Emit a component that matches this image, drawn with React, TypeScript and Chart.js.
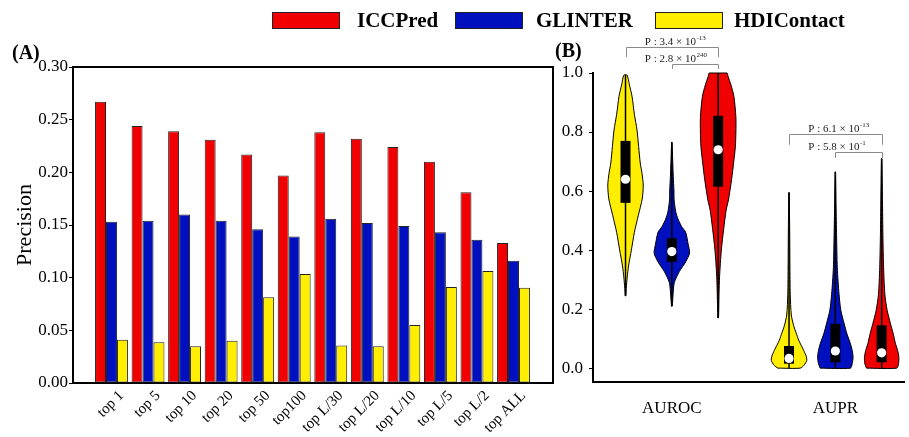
import React, { useEffect, useRef } from 'react';
import { Chart, registerables } from 'chart.js';
Chart.register(...registerables);

// ---------- Panel A data ----------
const categories = ['top 1', 'top 5', 'top 10', 'top 20', 'top 50', 'top100', 'top L/30', 'top L/20', 'top L/10', 'top L/5', 'top L/2', 'top ALL'];
const iccpred = [0.267, 0.244, 0.239, 0.231, 0.217, 0.197, 0.238, 0.232, 0.224, 0.210, 0.181, 0.133];
const glinter = [0.153, 0.154, 0.160, 0.154, 0.146, 0.139, 0.156, 0.152, 0.149, 0.143, 0.136, 0.116];
const hdicontact = [0.041, 0.0386, 0.0348, 0.0402, 0.0814, 0.1035, 0.0355, 0.0348, 0.0551, 0.0912, 0.1064, 0.0905];
const precisionTicks = [0, 0.05, 0.1, 0.15, 0.2, 0.25, 0.3];

// ---------- Panel B data ----------
const metricGroups = ['AUROC', 'AUPR'];
const methods = ['HDIContact', 'GLINTER', 'ICCPred'];
const scoreTicks = [0, 0.2, 0.4, 0.6, 0.8, 1.0];
// box stats: [min, q1, median, q3, max]
const aurocHdiStats = [0.245, 0.56, 0.64, 0.77, 0.993];
const aurocGlinterStats = [0.21, 0.36, 0.395, 0.44, 0.765];
const aurocIccStats = [0.17, 0.615, 0.74, 0.855, 1.0];
const auprHdiStats = [0.0, 0.015, 0.033, 0.075, 0.595];
const auprGlinterStats = [0.0, 0.02, 0.058, 0.15, 0.665];
const auprIccStats = [0.0, 0.02, 0.052, 0.145, 0.71];
// violin density profiles: [value, relative half-width]
const aurocHdiDensity = [[0.245, 0.02], [0.27, 0.04], [0.31, 0.1], [0.346, 0.17], [0.4, 0.33], [0.46, 0.5], [0.517, 0.72], [0.573, 0.94], [0.62, 1.0], [0.66, 0.93], [0.695, 0.83], [0.75, 0.74], [0.806, 0.65], [0.86, 0.5], [0.92, 0.37], [0.96, 0.22], [0.993, 0.09]];
const aurocGlinterDensity = [[0.21, 0.02], [0.25, 0.07], [0.29, 0.14], [0.327, 0.42], [0.36, 0.78], [0.39, 1.0], [0.42, 0.92], [0.46, 0.78], [0.48, 0.55], [0.505, 0.35], [0.53, 0.22], [0.57, 0.13], [0.6, 0.12], [0.65, 0.08], [0.7, 0.05], [0.765, 0.01]];
const aurocIccDensity = [[0.17, 0.02], [0.25, 0.05], [0.31, 0.08], [0.4, 0.18], [0.47, 0.31], [0.535, 0.45], [0.57, 0.58], [0.64, 0.76], [0.7, 0.88], [0.75, 0.97], [0.8, 1.0], [0.85, 1.0], [0.92, 0.89], [0.96, 0.72], [0.99, 0.55], [1.0, 0.5]];
const auprHdiDensity = [[0.0, 0.63], [0.01, 0.85], [0.026, 1.0], [0.04, 0.97], [0.06, 0.83], [0.094, 0.55], [0.12, 0.4], [0.14, 0.28], [0.18, 0.13], [0.25, 0.07], [0.35, 0.05], [0.45, 0.04], [0.595, 0.01]];
const auprGlinterDensity = [[0.0, 0.85], [0.015, 0.95], [0.037, 1.0], [0.06, 0.95], [0.083, 0.85], [0.117, 0.65], [0.15, 0.5], [0.196, 0.31], [0.25, 0.21], [0.34, 0.11], [0.45, 0.07], [0.55, 0.04], [0.665, 0.01]];
const auprIccDensity = [[0.0, 0.85], [0.015, 0.95], [0.037, 0.97], [0.06, 0.9], [0.083, 0.78], [0.117, 0.65], [0.15, 0.5], [0.196, 0.31], [0.25, 0.18], [0.34, 0.11], [0.45, 0.07], [0.55, 0.05], [0.71, 0.01]];
// significance annotations
const pValueMantissas = ['3.4', '2.8', '6.1', '5.8'];
const pValueExponents = ['-13', '240', '-13', '-1'];

// ---------- styling ----------
const RED = '#F00000';
const BLUE = '#0010BE';
const YELLOW = '#FFEE00';
const methodColors = [YELLOW, BLUE, RED];
const SERIF = "'Liberation Serif', 'Times New Roman', serif";
const GROUP_SPACING = 3.53;
const VIOLIN_HALF = 0.383;

const violinStats = [[aurocHdiStats, aurocGlinterStats, aurocIccStats], [auprHdiStats, auprGlinterStats, auprIccStats]];
const violinDensity = [[aurocHdiDensity, aurocGlinterDensity, aurocIccDensity], [auprHdiDensity, auprGlinterDensity, auprIccDensity]];

const centerOf = (g: number, s: number) => g * GROUP_SPACING + s;

// bracket definitions: group, from-method, to-method, line level, tick end level
const brackets = [
  { g: 0, a: 0, b: 2, line: 1.088, tick: 1.054, p: 0 },
  { g: 0, a: 1, b: 2, line: 1.031, tick: 1.014, p: 1 },
  { g: 1, a: 0, b: 2, line: 0.793, tick: 0.757, p: 2 },
  { g: 1, a: 1, b: 2, line: 0.732, tick: 0.712, p: 3 },
];

const framePlugin = {
  id: 'frameA',
  afterDraw(chart: any) {
    const { ctx, chartArea: a } = chart;
    ctx.save();
    ctx.strokeStyle = '#000';
    ctx.lineWidth = 2;
    ctx.beginPath();
    ctx.moveTo(a.left - 1, a.top);
    ctx.lineTo(a.right, a.top);
    ctx.lineTo(a.right, a.bottom + 1);
    ctx.stroke();
    ctx.restore();
  },
};

const bracketPlugin = {
  id: 'brackets',
  afterDraw(chart: any) {
    const { ctx } = chart;
    const xs = chart.scales.x;
    const ys = chart.scales.y;
    ctx.save();
    for (const br of brackets) {
      const xa = Math.round(xs.getPixelForValue(centerOf(br.g, br.a))) + 0.5;
      const xb = Math.round(xs.getPixelForValue(centerOf(br.g, br.b))) + 0.5;
      const yl = Math.round(ys.getPixelForValue(br.line)) + 0.5;
      const yt = ys.getPixelForValue(br.tick);
      ctx.strokeStyle = '#8a8a8a';
      ctx.lineWidth = 1;
      ctx.beginPath();
      ctx.moveTo(xa, yt);
      ctx.lineTo(xa, yl);
      ctx.lineTo(xb, yl);
      ctx.lineTo(xb, yt);
      ctx.stroke();
      const gx = xs.getPixelForValue(centerOf(br.g, 1)) - 27;
      const base = yl - 2.5;
      ctx.fillStyle = '#222';
      ctx.textAlign = 'left';
      ctx.textBaseline = 'alphabetic';
      ctx.font = `11px ${SERIF}`;
      const main = `P : ${pValueMantissas[br.p]} × 10`;
      ctx.fillText(main, gx, base);
      const w = ctx.measureText(main).width;
      ctx.font = `7px ${SERIF}`;
      ctx.fillText(pValueExponents[br.p], gx + w + 0.5, base - 5);
    }
    ctx.restore();
  },
};

export default function App() {
  const refA = useRef<HTMLCanvasElement>(null);
  const refB = useRef<HTMLCanvasElement>(null);

  useEffect(() => {
    const barData = [
      { label: 'ICCPred', values: iccpred, color: RED },
      { label: 'GLINTER', values: glinter, color: BLUE },
      { label: 'HDIContact', values: hdicontact, color: YELLOW },
    ];
    const chartA = new Chart(refA.current!, {
      type: 'bar',
      data: {
        datasets: barData.map((d) => ({
          label: d.label,
          data: d.values.map((v, i) => ({ x: i, y: v })),
          backgroundColor: d.color,
          borderColor: '#222',
          borderWidth: 1,
          borderSkipped: false,
          categoryPercentage: 0.9,
          barPercentage: 1.0,
        })),
      },
      options: {
        responsive: false,
        animation: false,
        layout: { padding: { top: 67, right: 7, left: 0, bottom: 0 } },
        plugins: { legend: { display: false }, tooltip: { enabled: false } },
        scales: {
          x: {
            type: 'linear',
            offset: false,
            min: -1.053,
            max: 12.081,
            afterBuildTicks: (s: any) => { s.ticks = categories.map((_, i) => ({ value: i })); },
            afterFit: (s: any) => { s.height = 54; },
            ticks: {
              callback: (_v: any, i: number) => categories[i],
              autoSkip: false,
              minRotation: 45,
              maxRotation: 45,
              labelOffset: 10,
              color: '#000',
              padding: 4,
              font: { family: SERIF, size: 15 },
            },
            grid: { display: true, offset: false, drawOnChartArea: false, drawTicks: false, color: '#000' },
            border: { color: '#000', width: 2 },
          },
          y: {
            type: 'linear',
            min: 0,
            max: 0.3,
            afterBuildTicks: (s: any) => { s.ticks = precisionTicks.map((v) => ({ value: v })); },
            afterFit: (s: any) => { s.width = 73; },
            ticks: {
              callback: (v: any) => Number(v).toFixed(2),
              color: '#000',
              padding: 1,
              font: { family: SERIF, size: 17 },
            },
            grid: { display: true, drawOnChartArea: false, drawTicks: true, tickLength: 4, color: '#000' },
            border: { color: '#000', width: 2 },
            title: {
              display: true,
              text: 'Precision',
              color: '#000',
              font: { family: SERIF, size: 22, lineHeight: 1.2 },
              padding: { top: 12, bottom: 0 },
            },
          },
        },
      },
      plugins: [framePlugin],
    } as any);

    const dsB: any[] = [];
    violinStats.forEach((groupStats, g) => {
      groupStats.forEach((st, s) => {
        const c = centerOf(g, s);
        const prof = violinDensity[g][s];
        const left = prof.map(([v, r]) => ({ x: c - r * VIOLIN_HALF, y: v }));
        const right = prof.slice().reverse().map(([v, r]) => ({ x: c + r * VIOLIN_HALF, y: v }));
        const outline = [...left, ...right, left[0]];
        dsB.push({
          label: `${metricGroups[g]} ${methods[s]} violin`,
          data: outline,
          showLine: true,
          fill: 'shape',
          tension: 0.25,
          backgroundColor: methodColors[s],
          borderColor: '#000',
          borderWidth: 1,
          pointRadius: 0,
          clip: false,
          order: 3,
        });
        dsB.push({
          label: `${metricGroups[g]} ${methods[s]} whisker`,
          data: [{ x: c, y: st[0] }, { x: c, y: st[4] }],
          showLine: true,
          borderColor: '#000',
          borderWidth: 1.5,
          pointRadius: 0,
          clip: false,
          order: 2,
        });
        dsB.push({
          label: `${metricGroups[g]} ${methods[s]} box`,
          data: [{ x: c, y: st[1] }, { x: c, y: st[3] }],
          showLine: true,
          borderColor: '#000',
          borderWidth: 10,
          borderCapStyle: 'butt',
          pointRadius: 0,
          clip: false,
          order: 1,
        });
        dsB.push({
          label: `${metricGroups[g]} ${methods[s]} median`,
          data: [{ x: c, y: st[2] }],
          showLine: false,
          pointRadius: 4.6,
          pointBackgroundColor: '#fff',
          pointBorderWidth: 0,
          pointBorderColor: '#fff',
          clip: false,
          order: 0,
        });
      });
    });

    const chartB = new Chart(refB.current!, {
      type: 'scatter',
      data: { datasets: dsB },
      options: {
        responsive: false,
        animation: false,
        layout: { padding: { top: 73, right: 0, left: 0, bottom: 0 } },
        plugins: { legend: { display: false }, tooltip: { enabled: false } },
        scales: {
          x: {
            type: 'linear',
            offset: false,
            min: -0.702,
            max: 6.021,
            afterBuildTicks: (s: any) => { s.ticks = metricGroups.map((_, g) => ({ value: centerOf(g, 1) })); },
            afterFit: (s: any) => { s.height = 55; },
            ticks: {
              callback: (_v: any, i: number) => metricGroups[i],
              autoSkip: false,
              maxRotation: 0,
              color: '#000',
              padding: 16,
              font: { family: SERIF, size: 17 },
            },
            grid: { display: true, drawOnChartArea: false, drawTicks: false },
            border: { color: '#000', width: 2 },
          },
          y: {
            type: 'linear',
            min: -0.047,
            max: 1.0,
            afterBuildTicks: (s: any) => { s.ticks = scoreTicks.map((v) => ({ value: v })); },
            afterFit: (s: any) => { s.width = 40; },
            ticks: {
              callback: (v: any) => Number(v).toFixed(1),
              color: '#000',
              padding: 6,
              font: { family: SERIF, size: 17 },
            },
            grid: { display: true, drawOnChartArea: false, drawTicks: true, tickLength: 4, color: '#000' },
            border: { color: '#000', width: 2 },
          },
        },
      },
      plugins: [bracketPlugin],
    } as any);

    return () => {
      chartA.destroy();
      chartB.destroy();
    };
  }, []);

  const legendItems = [
    { label: 'ICCPred', color: RED, box: 272, text: 357 },
    { label: 'GLINTER', color: BLUE, box: 455, text: 536 },
    { label: 'HDIContact', color: YELLOW, box: 655, text: 734 },
  ];

  return (
    <div style={{ position: 'absolute', left: 0, top: 0, width: 909, height: 437, background: '#fff', overflow: 'hidden' }}>
      <canvas ref={refA} width={560} height={437} style={{ position: 'absolute', left: 0, top: 0, width: 560, height: 437, display: 'block' }} />
      <canvas ref={refB} width={356} height={437} style={{ position: 'absolute', left: 553, top: 0, width: 356, height: 437, display: 'block' }} />
      {legendItems.map((it) => (
        <React.Fragment key={it.label}>
          <div style={{ position: 'absolute', left: it.box, top: 12, width: 66, height: 15, background: it.color, border: '1px solid #222' }} />
          <div style={{ position: 'absolute', left: it.text, top: 8, lineHeight: '24px', fontFamily: SERIF, fontWeight: 'bold', fontSize: 21, color: '#000', whiteSpace: 'nowrap' }}>{it.label}</div>
        </React.Fragment>
      ))}
      <div style={{ position: 'absolute', left: 12, top: 41, lineHeight: '22px', fontFamily: SERIF, fontWeight: 'bold', fontSize: 20, color: '#000' }}>(A)</div>
      <div style={{ position: 'absolute', left: 555, top: 39, lineHeight: '22px', fontFamily: SERIF, fontWeight: 'bold', fontSize: 20, color: '#000' }}>(B)</div>
    </div>
  );
}
